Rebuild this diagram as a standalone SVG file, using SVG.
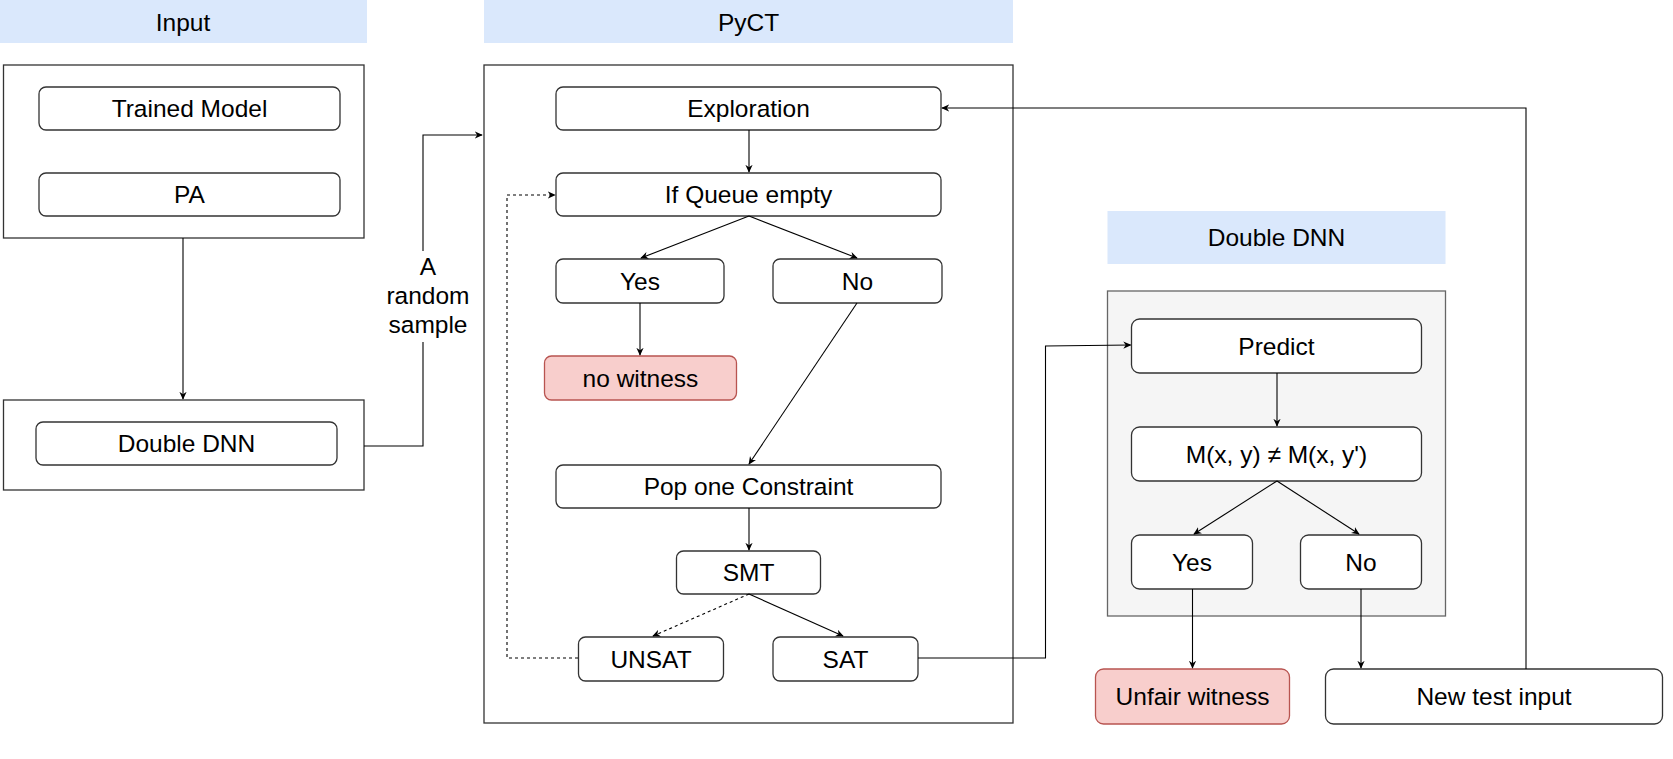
<svg xmlns="http://www.w3.org/2000/svg" width="1673" height="759" viewBox="0 0 1673 759">
<style>
  .hdr { fill: #dae8fc; stroke: none; }
  .outer { fill: #ffffff; stroke: #333333; stroke-width: 1.3; }
  .box { fill: #ffffff; stroke: #333333; stroke-width: 1.3; }
  .pink { fill: #f8cecc; stroke: #b85450; stroke-width: 1.3; }
  .gray { fill: #f5f5f5; stroke: #666666; stroke-width: 1.3; }
  text { font-family: "Liberation Sans", Arial, Helvetica, sans-serif; fill: #000000; text-anchor: middle; font-size: 24.5px; }
  .c { fill: none; stroke: #000000; stroke-width: 1.1; }
  .d { fill: none; stroke: #000000; stroke-width: 1.1; stroke-dasharray: 3 3; }
</style>
<defs>
  <marker id="arr" viewBox="0 0 10 10" refX="9" refY="5" markerWidth="8" markerHeight="8" markerUnits="userSpaceOnUse" orient="auto">
    <path d="M0,0.5 L10,5 L0,9.5 L3,5 z" fill="#000000"/>
  </marker>
</defs>
<rect width="1673" height="759" fill="#ffffff"/>

<!-- Input section -->
<g id="input-header">
  <rect class="hdr" x="0" y="0" width="367" height="43"/>
  <text x="183" y="31">Input</text>
</g>
<g id="input-box">
  <rect class="outer" x="3.5" y="65" width="360.5" height="173"/>
</g>
<g id="trained-model">
  <rect class="box" x="39" y="87" width="301" height="43" rx="7"/>
  <text x="189.5" y="117">Trained Model</text>
</g>
<g id="pa">
  <rect class="box" x="39" y="173" width="301" height="43" rx="7"/>
  <text x="189.5" y="203">PA</text>
</g>
<g id="double-dnn-box">
  <rect class="outer" x="3.5" y="400" width="360.5" height="90"/>
</g>
<g id="double-dnn-inner">
  <rect class="box" x="36" y="422" width="301" height="43" rx="7"/>
  <text x="186.5" y="452">Double DNN</text>
</g>

<!-- PyCT section -->
<g id="pyct-header">
  <rect class="hdr" x="484" y="0" width="529" height="43"/>
  <text x="748.5" y="31">PyCT</text>
</g>
<g id="pyct-box">
  <rect class="outer" x="484" y="65" width="529" height="658"/>
</g>
<g id="exploration">
  <rect class="box" x="556" y="87" width="385" height="43" rx="7"/>
  <text x="748.5" y="117">Exploration</text>
</g>
<g id="if-queue-empty">
  <rect class="box" x="556" y="173" width="385" height="43" rx="7"/>
  <text x="748.5" y="203">If Queue empty</text>
</g>
<g id="yes1">
  <rect class="box" x="556" y="259" width="168" height="44" rx="7"/>
  <text x="640" y="289.5">Yes</text>
</g>
<g id="no1">
  <rect class="box" x="773" y="259" width="169" height="44" rx="7"/>
  <text x="857.5" y="289.5">No</text>
</g>
<g id="no-witness">
  <rect class="pink" x="544.5" y="356" width="192" height="44" rx="7"/>
  <text x="640.5" y="386.5">no witness</text>
</g>
<g id="pop-one-constraint">
  <rect class="box" x="556" y="465" width="385" height="43" rx="7"/>
  <text x="748.5" y="495">Pop one Constraint</text>
</g>
<g id="smt">
  <rect class="box" x="676.5" y="551" width="144" height="43" rx="7"/>
  <text x="748.5" y="581">SMT</text>
</g>
<g id="unsat">
  <rect class="box" x="578.5" y="637" width="145" height="44" rx="7"/>
  <text x="651" y="667.5">UNSAT</text>
</g>
<g id="sat">
  <rect class="box" x="773" y="637" width="145" height="44" rx="7"/>
  <text x="845.5" y="667.5">SAT</text>
</g>

<!-- Double DNN section -->
<g id="ddnn-header">
  <rect class="hdr" x="1107.5" y="211" width="338" height="53"/>
  <text x="1276.5" y="246">Double DNN</text>
</g>
<g id="ddnn-container">
  <rect class="gray" x="1107.5" y="291" width="338" height="325"/>
</g>
<g id="predict">
  <rect class="box" x="1131.5" y="319" width="290" height="54" rx="8"/>
  <text x="1276.5" y="354.5">Predict</text>
</g>
<g id="m-compare">
  <rect class="box" x="1131.5" y="427" width="290" height="54" rx="8"/>
  <text x="1276.5" y="462.5">M(x, y) ≠ M(x, y')</text>
</g>
<g id="yes2">
  <rect class="box" x="1131.5" y="535" width="121" height="54" rx="8"/>
  <text x="1192" y="570.5">Yes</text>
</g>
<g id="no2">
  <rect class="box" x="1300.5" y="535" width="121" height="54" rx="8"/>
  <text x="1361" y="570.5">No</text>
</g>
<g id="unfair-witness">
  <rect class="pink" x="1095.5" y="669" width="194" height="55" rx="8"/>
  <text x="1192.5" y="705">Unfair witness</text>
</g>
<g id="new-test-input">
  <rect class="box" x="1325.5" y="669" width="337" height="55" rx="8"/>
  <text x="1494" y="705">New test input</text>
</g>

<!-- Connectors -->
<g id="connectors">
  <path class="c" d="M183,238 L183,399" marker-end="url(#arr)"/>
  <path class="c" d="M364,446 L423,446 L423,135 L482,135" marker-end="url(#arr)"/>
  <path class="c" d="M749,130 L749,172" marker-end="url(#arr)"/>
  <path class="c" d="M749,216 L641,258" marker-end="url(#arr)"/>
  <path class="c" d="M749,216 L857,258" marker-end="url(#arr)"/>
  <path class="c" d="M640,303 L640,355" marker-end="url(#arr)"/>
  <path class="c" d="M857,303 L749,464" marker-end="url(#arr)"/>
  <path class="c" d="M749,508 L749,550" marker-end="url(#arr)"/>
  <path class="d" d="M749,594 L653,636" marker-end="url(#arr)"/>
  <path class="c" d="M749,594 L843,636" marker-end="url(#arr)"/>
  <path class="d" d="M578,658 L507,658 L507,195 L555,195" marker-end="url(#arr)"/>
  <path class="c" d="M918,658 L1045.5,658 L1045.5,346 L1130.5,345" marker-end="url(#arr)"/>
  <path class="c" d="M1277,373 L1277,426" marker-end="url(#arr)"/>
  <path class="c" d="M1277,481 L1194,534" marker-end="url(#arr)"/>
  <path class="c" d="M1277,481 L1359,534" marker-end="url(#arr)"/>
  <path class="c" d="M1192.5,589 L1192.5,668" marker-end="url(#arr)"/>
  <path class="c" d="M1361,589 L1361,668" marker-end="url(#arr)"/>
  <path class="c" d="M1526,669 L1526,108 L942,108" marker-end="url(#arr)"/>
  <rect x="386" y="251" width="84" height="91" fill="#ffffff"/>
  <text x="428" y="275">A</text>
  <text x="428" y="304">random</text>
  <text x="428" y="333">sample</text>
</g>
</svg>
